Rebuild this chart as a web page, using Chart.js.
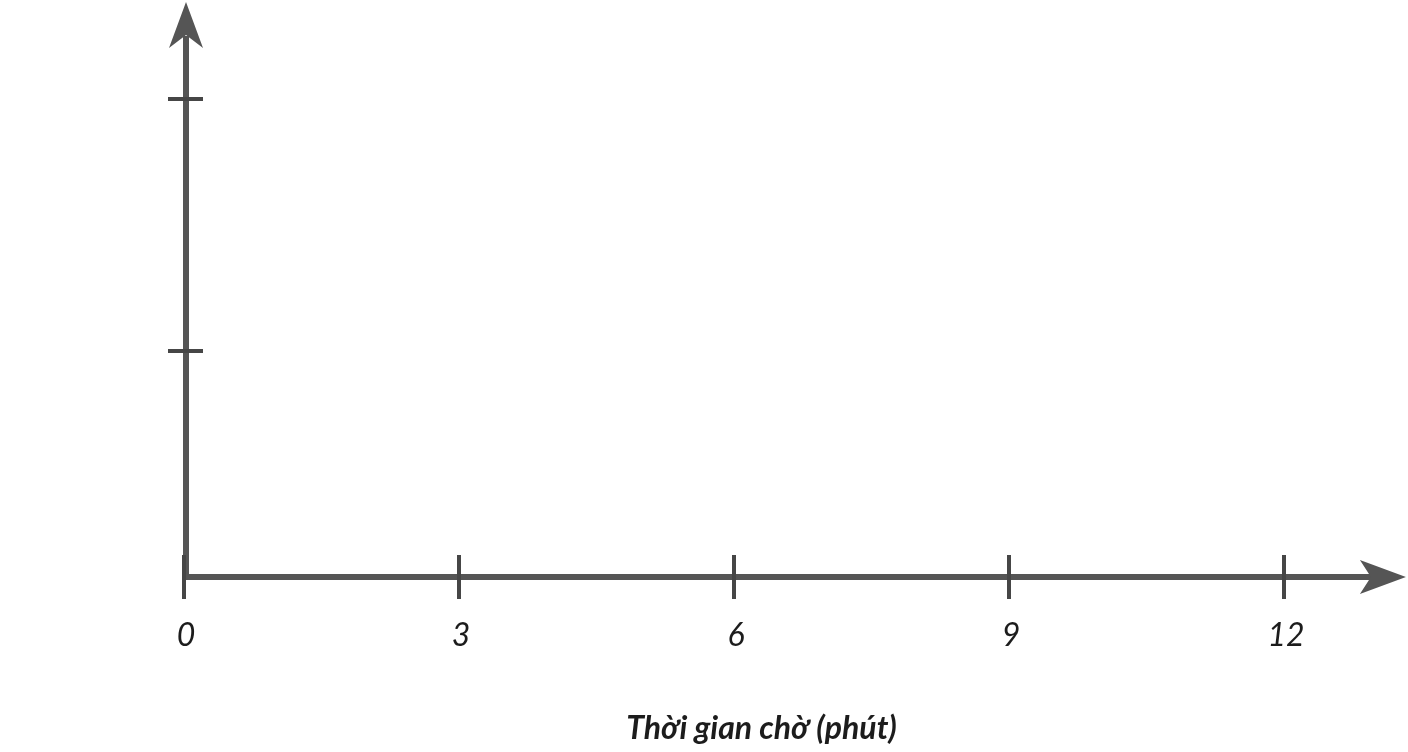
<!DOCTYPE html>
<html lang="vi">
<head>
<meta charset="utf-8">
<title>Thời gian chờ</title>
<script src="https://cdn.jsdelivr.net/npm/chart.js@4"></script>
<style>
  html, body { margin: 0; padding: 0; background: #fff; }
  canvas { display: block; }
</style>
</head>
<body>
<canvas id="chart" width="1408" height="752"></canvas>
<script>
// axis values (empty chart, only axes)
const xTicks = [0, 3, 6, 9, 12];
const yTicks = [1, 2];
const xTitle = 'Thời gian chờ (phút)';

const axisColor = '#555555';
const tickColor = '#464646';
const textColor = '#1c1c1c';

// draws the arrowed axes and the tick marks from the chart scales
const arrowAxes = {
  id: 'arrowAxes',
  afterDraw(chart) {
    const { ctx, chartArea, scales } = chart;
    const x = scales.x, y = scales.y;
    const y0 = chartArea.bottom;
    const x0 = x.getPixelForValue(0);
    const xEnd = x.getPixelForValue(13.33);
    const yAxisX = x0 + 2;

    ctx.save();
    ctx.fillStyle = axisColor;
    ctx.strokeStyle = axisColor;

    // x axis
    ctx.lineWidth = 6;
    ctx.beginPath();
    ctx.moveTo(x0, y0);
    ctx.lineTo(xEnd - 34, y0);
    ctx.stroke();
    ctx.beginPath();
    ctx.moveTo(xEnd, y0);
    ctx.lineTo(xEnd - 46, y0 - 17);
    ctx.lineTo(xEnd - 35, y0);
    ctx.lineTo(xEnd - 46, y0 + 17);
    ctx.closePath();
    ctx.fill();

    // y axis
    const top = chartArea.top;
    ctx.beginPath();
    ctx.moveTo(yAxisX, y0 + 3);
    ctx.lineTo(yAxisX, top + 34);
    ctx.stroke();
    ctx.beginPath();
    ctx.moveTo(yAxisX, top);
    ctx.lineTo(yAxisX - 17, top + 46);
    ctx.lineTo(yAxisX, top + 33);
    ctx.lineTo(yAxisX + 17, top + 46);
    ctx.closePath();
    ctx.fill();

    // tick marks
    ctx.strokeStyle = tickColor;
    ctx.lineWidth = 4;
    xTicks.forEach(v => {
      const px = x.getPixelForValue(v);
      ctx.beginPath();
      ctx.moveTo(px, y0 - 22);
      ctx.lineTo(px, y0 + 22);
      ctx.stroke();
    });
    yTicks.forEach(v => {
      const py = y.getPixelForValue(v);
      ctx.beginPath();
      ctx.moveTo(yAxisX - 18, py);
      ctx.lineTo(yAxisX + 17, py);
      ctx.stroke();
    });
    ctx.restore();
  }
};

new Chart(document.getElementById('chart'), {
  type: 'scatter',
  data: { datasets: [{ data: [] }] },
  options: {
    responsive: false,
    animation: false,
    layout: { padding: { left: 184, right: 69, top: 2, bottom: 0 } },
    plugins: { legend: { display: false }, tooltip: { enabled: false } },
    scales: {
      x: {
        type: 'linear',
        min: 0,
        max: 12.6,
        afterBuildTicks: scale => { scale.ticks = xTicks.map(v => ({ value: v })); },
        afterFit: scale => { scale.height = 175; },
        grid: { display: false, drawTicks: false },
        border: { display: false },
        ticks: {
          padding: 39,
          labelOffset: 2,
          maxRotation: 0,
          autoSkip: false,
          color: textColor,
          font: { family: 'Lato', size: 32, style: 'italic' }
        },
        title: {
          display: true,
          text: xTitle,
          color: textColor,
          padding: { top: 0, bottom: 4 },
          font: { family: 'Lato', size: 32, style: 'italic', weight: 'bold' }
        }
      },
      y: {
        type: 'linear',
        display: false,
        min: 0.103,
        max: 2.385,
        afterBuildTicks: scale => { scale.ticks = yTicks.map(v => ({ value: v })); }
      }
    }
  },
  plugins: [arrowAxes]
});
</script>
</body>
</html>
